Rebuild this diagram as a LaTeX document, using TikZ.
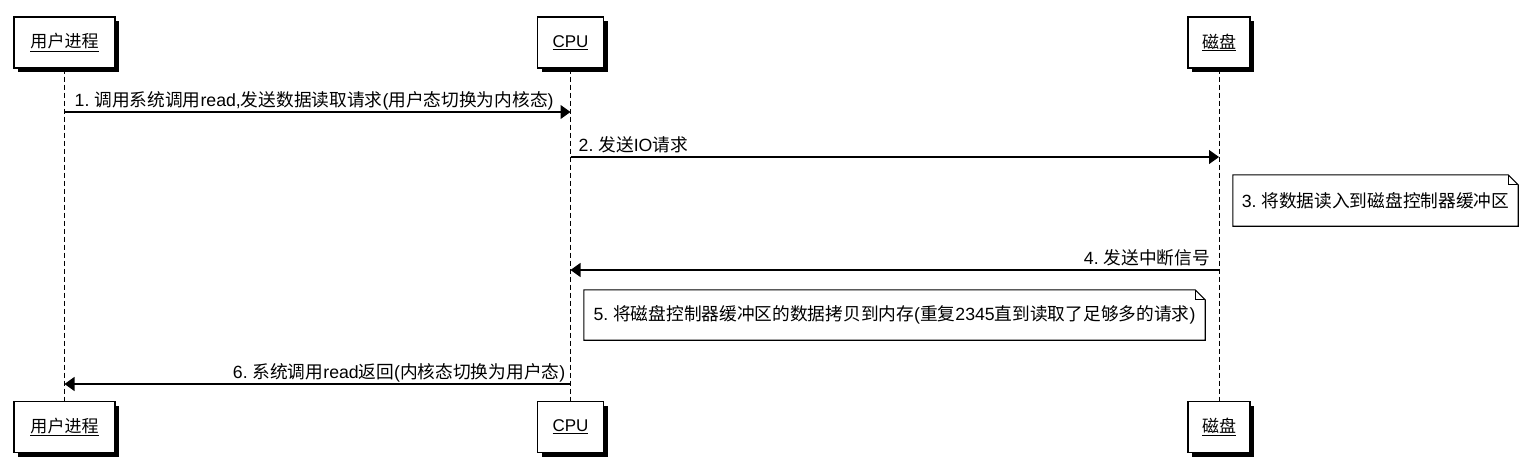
\documentclass[tikz,border=0pt]{standalone}
\usepackage{fontspec}
\setmainfont{Liberation Sans}
\newfontfamily\cjkfont{Noto Sans CJK SC}
\newcommand\zh[1]{{\cjkfont #1}}
\usetikzlibrary{arrows.meta,shadows}
\begin{document}
\frenchspacing
\begin{tikzpicture}[x=1pt,y=-1pt,
  participant/.style={draw, line width=1.1pt, fill=white, inner sep=0pt,
    minimum height=51pt, font=\fontsize{17}{20}\selectfont,
    drop shadow={shadow xshift=4pt, shadow yshift=-4pt, opacity=1, fill=black}},
  lifeline/.style={line width=0.9pt, dash pattern=on 5pt off 3pt},
  msg/.style={line width=1.1pt, -{Triangle[length=10pt,width=14pt]}},
  msglabel/.style={inner sep=0pt, font=\fontsize{17.7}{21}\selectfont},
  notetext/.style={inner sep=0pt, font=\fontsize{17.7}{21}\selectfont},
  notebox/.style={line width=1.1pt, line join=miter}
]
\useasboundingbox (0,0) rectangle (1528,458);
% participants
\node[participant, minimum width=101pt] (u1) at (64.5,42.5) {\underline{\zh{用户进程}}};
\node[participant, minimum width=66pt]  (c1) at (570.5,42.5) {\underline{CPU}};
\node[participant, minimum width=62pt]  (d1) at (1219,42.5) {\underline{\zh{磁盘}}};
\node[participant, minimum width=101pt] (u2) at (64.5,427) {\underline{\zh{用户进程}}};
\node[participant, minimum width=66pt]  (c2) at (570.5,427) {\underline{CPU}};
\node[participant, minimum width=62pt]  (d2) at (1219,427) {\underline{\zh{磁盘}}};
% lifelines
\draw[lifeline] (u1.south) -- (u2.north);
\draw[lifeline] (c1.south) -- (c2.north);
\draw[lifeline] (d1.south) -- (d2.north);
% lifeline points
\coordinate (m1a) at (64.5,112);  \coordinate (m1b) at (570.5,112);
\coordinate (m2a) at (570.5,157); \coordinate (m2b) at (1219,157);
\coordinate (m4a) at (1219,270);  \coordinate (m4b) at (570.5,270);
\coordinate (m6a) at (570.5,384); \coordinate (m6b) at (64.5,384);
% message 1
\draw[msg] (m1a) -- (m1b);
\node[msglabel, anchor=base west] (l1) at (74.5,106) {1. \zh{调用系统调用}read,\zh{发送数据读取请求}(\zh{用户态切换为内核态})};
% message 2
\draw[msg] (m2a) -- (m2b);
\node[msglabel, anchor=base west] (l2) at (578.5,151) {2. \zh{发送}IO\zh{请求}};
% note 3
\node[notetext, minimum width=285pt, minimum height=51pt] (n3) at (1375.5,200.5) {3. \zh{将数据读入到磁盘控制器缓冲区}};
\draw[notebox] (n3.south west) -- (n3.north west) -- ([xshift=-10pt]n3.north east) -- ([yshift=-10pt]n3.north east) -- (n3.south east) -- cycle;
\draw[line width=0.8pt] ([xshift=-10pt]n3.north east) -- ([xshift=-10pt,yshift=-10pt]n3.north east) -- ([yshift=-10pt]n3.north east);
% message 4
\draw[msg] (m4a) -- (m4b);
\node[msglabel, anchor=base east] (l4) at (1210,264) {4. \zh{发送中断信号}};
% note 5
\node[notetext, minimum width=621pt, minimum height=50pt] (n5) at (894.5,315) {5. \zh{将磁盘控制器缓冲区的数据拷贝到内存}(\zh{重复}2345\zh{直到读取了足够多的请求})};
\draw[notebox] (n5.south west) -- (n5.north west) -- ([xshift=-10pt]n5.north east) -- ([yshift=-10pt]n5.north east) -- (n5.south east) -- cycle;
\draw[line width=0.8pt] ([xshift=-10pt]n5.north east) -- ([xshift=-10pt,yshift=-10pt]n5.north east) -- ([yshift=-10pt]n5.north east);
% message 6
\draw[msg] (m6a) -- (m6b);
\node[msglabel, anchor=base east] (l6) at (565.5,378) {6. \zh{系统调用}read\zh{返回}(\zh{内核态切换为用户态})};
\end{tikzpicture}
\end{document}
